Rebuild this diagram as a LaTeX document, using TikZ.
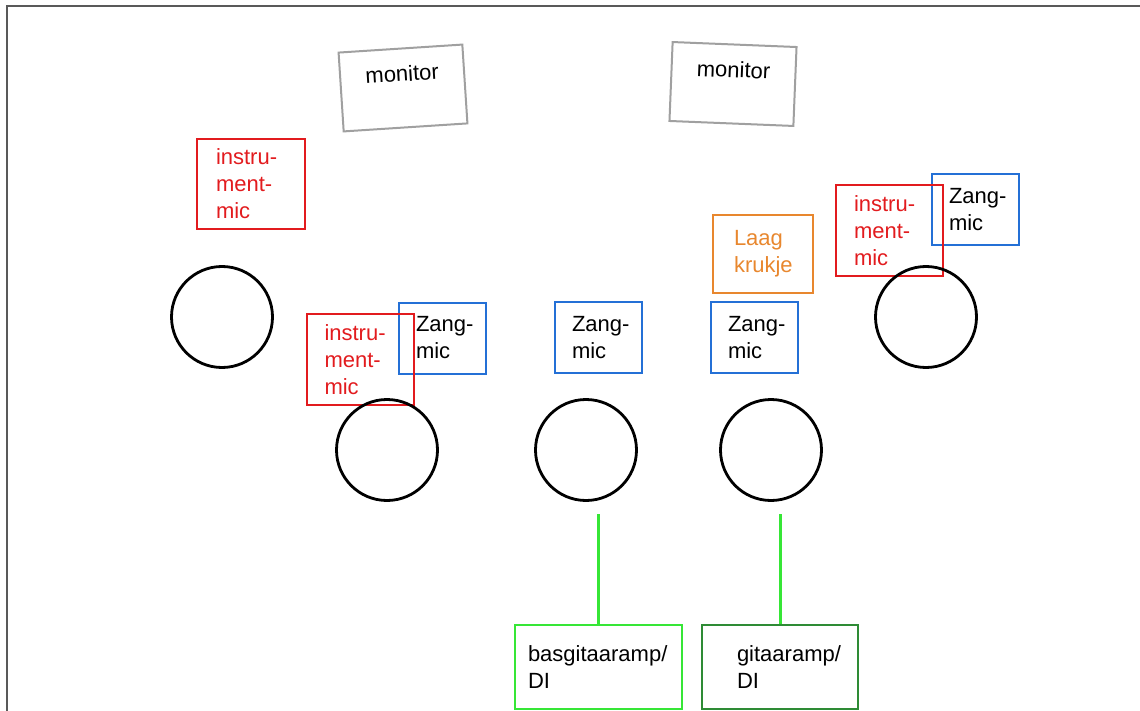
\documentclass[tikz,border=0pt]{standalone}
\usepackage{fontspec}
\setmainfont{Liberation Sans}
\usetikzlibrary{positioning,calc}
\definecolor{instred}{HTML}{E21B1E}
\definecolor{zangblue}{HTML}{2470D6}
\definecolor{kruk}{HTML}{E8872E}
\definecolor{basgreen}{HTML}{36E636}
\definecolor{gitgreen}{HTML}{2E8B35}
\definecolor{mongray}{HTML}{A0A0A0}
\tikzset{
    every node/.style = {
        font=\fontsize{11}{13.5}\selectfont,
        },
    box/.style = {
        draw,
        line width=1pt,
        align=left,
        inner ysep=0pt,
        execute at begin node={\exhyphenpenalty=10000 },
        },
    instrument/.style = {
        box,
        draw=instred,
        text=instred,
        minimum width=53.5pt,
        minimum height=45.5pt,
        inner xsep=9pt,
        text width=35.5pt,
        },
    zang/.style = {
        box,
        draw=zangblue,
        minimum width=43.5pt,
        minimum height=35.5pt,
        inner xsep=8.5pt,
        text width=26.5pt,
        },
    krukje/.style = {
        box,
        draw=kruk,
        text=kruk,
        minimum width=50pt,
        minimum height=39pt,
        inner xsep=10.5pt,
        text width=29pt,
        },
    amp/.style = {
        box,
        minimum height=42pt,
        },
    monitor/.style = {
        draw=mongray,
        line width=1pt,
        inner sep=0pt,
        minimum width=62pt,
        text height=16.5pt,
        text depth=23pt,
        },
    player/.style = {
        draw,
        circle,
        line width=1.4pt,
        minimum size=50.5pt,
        },
    cable/.style = {
        draw=basgreen,
        line width=1.5pt,
        shorten >=6pt,
        },
    frame/.style = {
        draw=black!65,
        line width=1pt,
        },
}
\begin{document}
\begin{tikzpicture}[x=0.5pt,y=-0.5pt]
            \useasboundingbox (0,0) rectangle (1140,711);
            \coordinate (c1) at (7,711);
            \coordinate (c2) at (7,6);
            \coordinate (c3) at (1140,6);
            \draw[frame] (c1) -- (c2) -- (c3);

            \node[monitor, rotate=3.7] (monL) at (403,88) {monitor};
            \node[monitor, rotate=-2.3] (monR) at (733,84) {monitor};

            \node[instrument, minimum width=54pt, inner xsep=9.5pt, text width=35pt, minimum height=45pt] (instr1) at (251,184) {instru-\\ment-\\mic};
            \node[player] (p1) at (222,317) {};

            \node[zang] (zang2) at (442.5,338) {Zang-\\mic};
            \node[instrument] (instr2) at (360,359.5) {instru-\\ment-\\mic};
            \node[player] (p2) at (387,450) {};

            \node[zang] (zang3) at (598.5,337.5) {Zang-\\mic};
            \node[player] (p3) at (586,450) {};

            \node[krukje] (kruk4) at (763,254) {Laag\\krukje};
            \node[zang] (zang4) at (754.5,337.5) {Zang-\\mic};
            \node[player] (p4) at (771,450) {};

            \node[zang] (zang5) at (975.5,209.5) {Zang-\\mic};
            \node[instrument] (instr5) at (889.5,230.5) {instru-\\ment-\\mic};
            \node[player] (p5) at (926,317) {};

            \node[amp, draw=basgreen, minimum width=83.5pt, inner xsep=6.5pt, text width=70.5pt] (bas) at (598.5,667) {basgitaaramp/\\DI};
            \node[amp, draw=gitgreen, minimum width=78pt, inner xsep=17.5pt, text width=43pt] (git) at (780,667) {gitaaramp/\\DI};

            \draw[cable] (bas.north) -- (bas.north |- p3.south);
            \draw[cable] (git.north) -- (git.north |- p4.south);
        \end{tikzpicture}
\end{document}
